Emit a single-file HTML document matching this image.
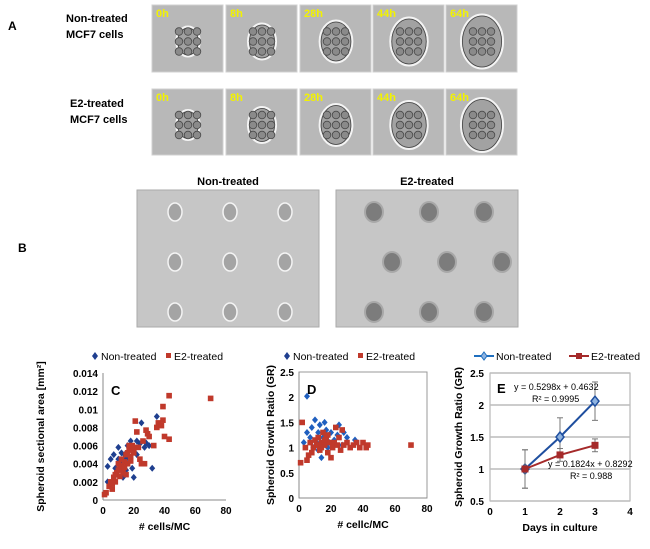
<!DOCTYPE html>
<html><head><meta charset="utf-8"><style>
body{margin:0;background:#fff;width:650px;height:544px;overflow:hidden;font-family:"Liberation Sans",sans-serif}
svg text{font-family:"Liberation Sans",sans-serif}
</style></head><body>
<svg id="fig" width="650" height="544" viewBox="0 0 650 544">
<g id="panelA"></g>
<g id="panelB"></g>
<g id="chartC"></g>
<g id="chartD"></g>
<g id="chartE"></g>
</svg>
<script>
const NS="http://www.w3.org/2000/svg";
function mk(p,t,a,txt){const e=document.createElementNS(NS,t);for(const k in a)e.setAttribute(k,a[k]);if(txt!==undefined)e.textContent=txt;p.appendChild(e);return e;}

// ---------- Panel C data ----------
const cBlueX=[3,3,5,7,8,10,12,13,14,15,16,18,19,20,20,22,24,25,27,30,32,35,10,12,17,9,11,15,22,28];
const cBlueY=[0.0037,0.002,0.0045,0.005,0.0035,0.0058,0.004,0.0025,0.005,0.0045,0.006,0.0065,0.0035,0.0025,0.0055,0.005,0.0062,0.0085,0.0058,0.006,0.0035,0.0092,0.0045,0.0052,0.0047,0.003,0.0038,0.0033,0.0065,0.0063];
const cRedX=[1,2,4,5,6,7,8,9,10,11,12,13,14,15,16,17,18,19,20,21,22,23,24,25,26,28,29,30,33,35,36,38,39,39,40,43,43,70,6,8,10,12,14,16,18,20,15,11,27,17];
const cRedY=[0.0006,0.0008,0.0015,0.002,0.0012,0.0025,0.002,0.003,0.004,0.0035,0.0045,0.003,0.0042,0.005,0.004,0.0055,0.0048,0.006,0.0052,0.0087,0.0075,0.0058,0.0045,0.004,0.0065,0.0077,0.0073,0.007,0.006,0.008,0.0085,0.0082,0.0088,0.0103,0.007,0.0115,0.0067,0.0112,0.0018,0.0028,0.0033,0.0038,0.0036,0.0052,0.0043,0.0058,0.0028,0.0026,0.004,0.006];
const cXTicks=[0,20,40,60,80];
const cYTicks=["0","0.002","0.004","0.006","0.008","0.01","0.012","0.014"];
// ---------- Panel D data ----------
const dBlueX=[3,5,5,7,8,10,11,12,13,14,15,16,17,18,20,22,24,25,28,30,35,9,12,19,27];
const dBlueY=[1.1,2.02,1.3,1.2,1.4,1.55,1.1,1.3,1.45,0.8,1.2,1.5,1.35,1.0,1.3,1.15,1.25,1.45,1.3,1.2,1.15,1.0,0.95,1.1,1.05];
const dRedX=[1,2,4,5,6,7,8,9,10,11,12,13,14,15,16,17,18,19,20,21,22,23,24,25,26,27,28,30,32,34,36,38,40,42,43,70,14,16,18,12];
const dRedY=[0.7,1.5,1.0,0.75,0.85,1.1,0.9,1.0,1.15,1.05,1.2,0.95,1.1,1.3,1.05,1.2,0.9,1.1,0.8,1.0,1.1,1.4,1.05,1.2,0.95,1.35,1.05,1.1,1.0,1.05,1.1,1.0,1.1,1.0,1.05,1.05,1.0,1.15,1.25,1.05];
const dXTicks=[0,20,40,60,80];
const dYTicks=["0","0.5","1","1.5","2","2.5"];
// ---------- Panel E data ----------
const eDays=[1,2,3];
const eBlue=[1,1.5,2.06];
const eBlueErr=[0.3,0.3,0.3];
const eRed=[1,1.22,1.37];
const eRedErr=[0.3,0.1,0.1];
const eXTicks=[0,1,2,3,4];
const eYTicks=["0.5","1","1.5","2","2.5"];

// ---------- Panel A ----------
const A=document.getElementById('panelA');
mk(A,'text',{x:8,y:30,'font-size':12,'font-weight':'bold',},'A');
const times=["0h","8h","28h","44h","64h"];
const tileX=[152,226,300,373,446];
const rows=[{y:5,h:67,l1:"Non-treated",l2:"MCF7 cells",lx:66,ly:22},{y:89,h:66,l1:"E2-treated",l2:"MCF7 cells",lx:70,ly:107}];
rows.forEach((r,ri)=>{
  mk(A,'text',{x:r.lx,y:r.ly,'font-size':11,'font-weight':'bold',},r.l1);
  mk(A,'text',{x:r.lx,y:r.ly+16,'font-size':11,'font-weight':'bold',},r.l2);
  tileX.forEach((x,i)=>{
    const g=mk(A,'g',{});
    mk(g,'rect',{x:x,y:r.y,width:71,height:r.h,fill:'#b8b8b8',stroke:'#d0d0d0'});
    const cx=x+36,cy=r.y+r.h/2+3,rad=15+i*3;
    mk(g,'ellipse',{cx:cx,cy:cy,rx:rad*0.78,ry:rad,fill:'#a2a2a2',stroke:'#f4f4f4','stroke-width':2});
    mk(g,'ellipse',{cx:cx,cy:cy,rx:rad*0.78-1.5,ry:rad-1.5,fill:'none',stroke:'#444','stroke-width':0.8});
    for(let k=0;k<9;k++)mk(g,'circle',{cx:cx-9+(k%3)*9,cy:cy-10+Math.floor(k/3)*10,r:3.8,fill:'#8a8a8a',stroke:'#4a4a4a','stroke-width':0.8});
    mk(g,'text',{x:x+4,y:r.y+12,'font-size':11,'font-weight':'bold',fill:'#f2f200'},times[i]);
  });
});
// ---------- Panel B ----------
const B=document.getElementById('panelB');
mk(B,'text',{x:18,y:252,'font-size':12,'font-weight':'bold',},'B');
[[137,"Non-treated",0],[336,"E2-treated",1]].forEach(([x,t,k])=>{
  mk(B,'text',{x:x+91,y:185,'font-size':11,'font-weight':'bold','text-anchor':'middle',},t);
  const g=mk(B,'g',{});
  mk(g,'rect',{x:x,y:190,width:182,height:137,fill:'#c6c6c6',stroke:'#aaa'});
  for(let r=0;r<3;r++)for(let c=0;c<3;c++){
    const cx=x+38+c*55+(k&&r%2?18:0),cy=212+r*50;
    mk(g,'ellipse',{cx:cx,cy:cy,rx:k?9:7,ry:k?10:9,fill:k?'#7c7c7c':'#a4a4a4',stroke:k?'#a8a8a8':'#f4f4f4','stroke-width':k?2:1.5});
  }
});

// ---------- scatter helper ----------
function scatter(id,box,xmax,ymax,xT,yT,series,title,xtitle,letter,frame,legendX){
  const G=document.getElementById(id);
  const sx=v=>box.x0+(v/xmax)*(box.x1-box.x0);
  const sy=v=>box.y0-(v/ymax)*(box.y0-box.y1);
  if(frame)mk(G,'rect',{x:box.x0,y:box.y1,width:box.x1-box.x0,height:box.y0-box.y1,fill:'none',stroke:'#999',});
  mk(G,'line',{x1:box.x0,y1:box.y1,x2:box.x0,y2:box.y0,stroke:'#888',});
  mk(G,'line',{x1:box.x0,y1:box.y0,x2:box.x1,y2:box.y0,stroke:'#888',});
  xT.forEach(t=>mk(G,'text',{x:sx(t),y:box.y0+14,'font-size':10,'text-anchor':'middle','font-weight':'bold',},String(t)));
  yT.forEach(t=>mk(G,'text',{x:box.x0-5,y:sy(parseFloat(t))+4,'font-size':10,'text-anchor':'end','font-weight':'bold',},t));
  series.forEach(s=>{
    s.x.forEach((xv,i)=>{
      const px=sx(xv),py=sy(s.y[i]);
      if(s.shape==='d'){const e=mk(G,'polygon',{points:`${px},${py-3.5} ${px+3},${py} ${px},${py+3.5} ${px-3},${py}`,fill:s.c});}
      else{const e=mk(G,'rect',{x:px-2.8,y:py-2.8,width:5.6,height:5.6,fill:s.c});}
    });
  });
  mk(G,'text',{x:box.x0+8,y:box.y1+22,'font-size':13,'font-weight':'bold',},letter);
  mk(G,'text',{x:(box.x0+box.x1)/2,y:box.y0+30,'font-size':10.5,'font-weight':'bold','text-anchor':'middle',},xtitle);
  mk(G,'text',{transform:`translate(${box.tx},${(box.y0+box.y1)/2}) rotate(-90)`,'font-size':10.5,'font-weight':'bold','text-anchor':'middle',},title);
  const L=mk(G,'g',{});
  const lx=legendX;
  mk(L,'polygon',{points:`${lx},${352} ${lx+3},${356} ${lx},${360} ${lx-3},${356}`,fill:'#1f3f8f'});
  mk(L,'text',{x:lx+6,y:360,'font-size':10.5},'Non-treated');
  mk(L,'rect',{x:lx+71,y:353,width:5,height:5,fill:'#c0392b'});
  mk(L,'text',{x:lx+79,y:360,'font-size':10.5},'E2-treated');
}
scatter('chartC',{x0:103,x1:226,y0:500,y1:373,tx:44},80,0.014,cXTicks,cYTicks,
  [{x:cBlueX,y:cBlueY,c:'#1f3f8f',shape:'d'},{x:cRedX,y:cRedY,c:'#c0392b',shape:'s'}],
  'Spheroid  sectional area [mm²]','# cells/MC','C',false,95);
scatter('chartD',{x0:299,x1:427,y0:498,y1:372,tx:274},80,2.5,dXTicks,dYTicks,
  [{x:dBlueX,y:dBlueY,c:'#1f5fbf',shape:'d'},{x:dRedX,y:dRedY,c:'#c0392b',shape:'s'}],
  'Spheroid Growth Ratio (GR)','# cellc/MC','D',true,287);

// ---------- Panel E ----------
(function(){
  const G=document.getElementById('chartE');
  const x0=490,x1=630,y0=501,y1=373;
  const sx=v=>x0+(v/4)*(x1-x0), sy=v=>y0-((v-0.5)/2)*(y0-y1);
  mk(G,'rect',{x:x0,y:y1,width:x1-x0,height:y0-y1,fill:'none',stroke:'#aaa',});
  eYTicks.forEach(t=>{const v=parseFloat(t);
    mk(G,'line',{x1:x0,y1:sy(v),x2:x1,y2:sy(v),stroke:'#bbb','stroke-width':1.5,});
    mk(G,'text',{x:x0-6,y:sy(v)+4,'font-size':10,'font-weight':'bold','text-anchor':'end',},t);});
  eXTicks.forEach(t=>mk(G,'text',{x:sx(t),y:y0+14,'font-size':10,'font-weight':'bold','text-anchor':'middle',},String(t)));
  function series(vals,errs,col,shape,nm){
    const pts=eDays.map((d,i)=>sx(d)+','+sy(vals[i])).join(' ');
    eDays.forEach((d,i)=>{const x=sx(d);
      mk(G,'line',{x1:x,y1:sy(vals[i]-errs[i]),x2:x,y2:sy(vals[i]+errs[i]),stroke:'#777'});
      mk(G,'line',{x1:x-3,y1:sy(vals[i]-errs[i]),x2:x+3,y2:sy(vals[i]-errs[i]),stroke:'#777'});
      mk(G,'line',{x1:x-3,y1:sy(vals[i]+errs[i]),x2:x+3,y2:sy(vals[i]+errs[i]),stroke:'#777'});});
    const l=mk(G,'polyline',{points:pts,fill:'none',stroke:col,'stroke-width':2});
    
    
    eDays.forEach((d,i)=>{const x=sx(d),y=sy(vals[i]);
      if(shape==='d')mk(G,'polygon',{points:`${x},${y-5} ${x+4},${y} ${x},${y+5} ${x-4},${y}`,fill:'#8fb3e0',stroke:col,'stroke-width':1.5});
      else mk(G,'rect',{x:x-3.5,y:y-3.5,width:7,height:7,fill:col});});
  }
  series(eBlue,eBlueErr,'#1f4f9f','d','non-treated');
  series(eRed,eRedErr,'#a52a2a','s','e2-treated');
  mk(G,'text',{x:x0+7,y:y1+20,'font-size':13,'font-weight':'bold',},'E');
  mk(G,'text',{x:514,y:390,'font-size':9,},'y = 0.5298x + 0.4632');
  mk(G,'text',{x:532,y:402,'font-size':9,},'R² = 0.9995');
  mk(G,'text',{x:548,y:467,'font-size':9,},'y = 0.1824x + 0.8292');
  mk(G,'text',{x:570,y:479,'font-size':9,},'R² = 0.988');
  mk(G,'text',{x:560,y:531,'font-size':10.5,'font-weight':'bold','text-anchor':'middle',},'Days in culture');
  mk(G,'text',{transform:`translate(462,${(y0+y1)/2}) rotate(-90)`,'font-size':10.5,'font-weight':'bold','text-anchor':'middle',},'Spheroid  Growth Ratio (GR)');
  const L=mk(G,'g',{});
  mk(L,'line',{x1:474,y1:356,x2:494,y2:356,stroke:'#1f6fbf','stroke-width':2});
  mk(L,'polygon',{points:'484,352 487,356 484,360 481,356',fill:'#8fb3e0',stroke:'#1f6fbf'});
  mk(L,'text',{x:496,y:360,'font-size':10.5},'Non-treated');
  mk(L,'line',{x1:569,y1:356,x2:589,y2:356,stroke:'#a52a2a','stroke-width':2});
  mk(L,'rect',{x:576,y:353,width:6,height:6,fill:'#a52a2a'});
  mk(L,'text',{x:591,y:360,'font-size':10.5},'E2-treated');
})();
</script>
</body></html>
